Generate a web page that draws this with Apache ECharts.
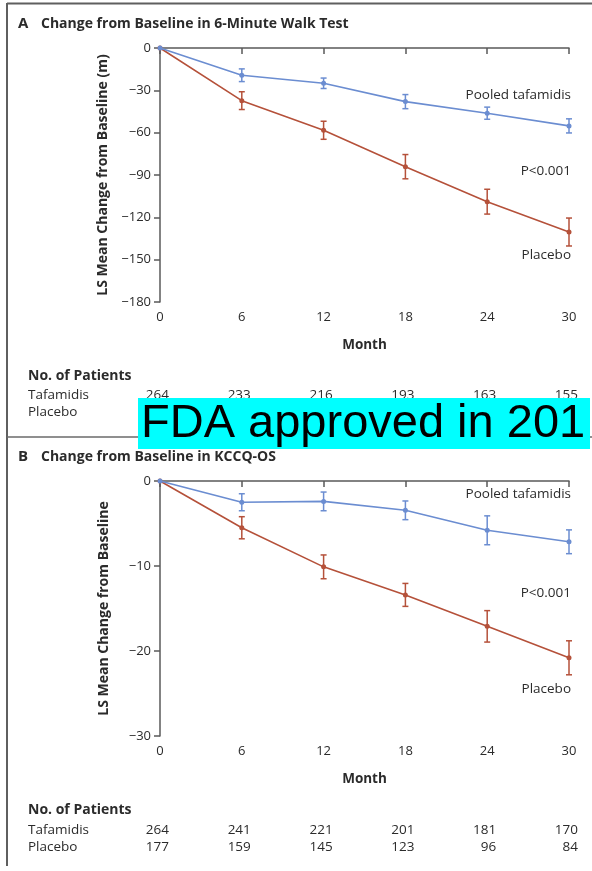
<!DOCTYPE html>
<html>
<head>
<meta charset="utf-8">
<script src="https://cdn.jsdelivr.net/npm/echarts@6/dist/echarts.min.js"></script>
<style>
  html, body { margin: 0; padding: 0; background: #fff; }
  #chart { width: 592px; height: 871px; }
</style>
</head>
<body>
<div id="chart"></div>
<script>
// Study months on the x axis
const months = [0, 6, 12, 18, 24, 30];

// A: 6-minute walk test, LS mean change (m) and error half-widths
const walkTafamidis = [0, -19.3, -25.0, -38.0, -46.2, -55.2];
const walkTafamidisErr = [0, 4.5, 3.7, 5.0, 4.3, 5.0];
const walkPlacebo = [0, -37.3, -58.3, -84.1, -108.9, -130.4];
const walkPlaceboErr = [0, 6.3, 6.4, 8.6, 8.8, 9.9];

// B: KCCQ-OS, LS mean change and error half-widths
const kccqTafamidis = [0, -2.5, -2.4, -3.45, -5.8, -7.15];
const kccqTafamidisErr = [0, 1.0, 1.1, 1.1, 1.7, 1.4];
const kccqPlacebo = [0, -5.5, -10.1, -13.4, -17.1, -20.8];
const kccqPlaceboErr = [0, 1.3, 1.4, 1.35, 1.85, 2.0];

// Numbers at risk
const walkPatientsTafamidis = [264, 233, 216, 193, 163, 155];
const kccqPatientsTafamidis = [264, 241, 221, 201, 181, 170];
const kccqPatientsPlacebo = [177, 159, 145, 123, 96, 84];

// Axis ticks
const walkTicks = { min: -180, max: 0, interval: 30 };
const kccqTicks = { min: -30, max: 0, interval: 10 };

const BLUE = '#6b8dd1';
const RED = '#b5513a';
const AXIS = '#5a5a5a';
const TEXT = '#2b2b2b';
const FONT = '"Open Sans", Lato, sans-serif';

const minusFmt = v => (v < 0 ? '\u2212' + Math.abs(v) : String(v));

function pairs(vals) { return months.map((m, i) => [m, vals[i]]); }
function triples(vals, errs) { return months.map((m, i) => [m, vals[i], errs[i]]); }

function errorBars(name, xi, yi, vals, errs, color) {
  return {
    type: 'custom', name, xAxisIndex: xi, yAxisIndex: yi, z: 3,
    data: triples(vals, errs),
    renderItem(params, api) {
      const x = api.value(0), y = api.value(1), e = api.value(2);
      if (!e) return null;
      const hi = api.coord([x, y + e]);
      const lo = api.coord([x, y - e]);
      const w = 3;
      const style = { stroke: color, lineWidth: 1.5 };
      return {
        type: 'group',
        children: [
          { type: 'line', shape: { x1: hi[0], y1: hi[1], x2: lo[0], y2: lo[1] }, style },
          { type: 'line', shape: { x1: hi[0] - w, y1: hi[1], x2: hi[0] + w, y2: hi[1] }, style },
          { type: 'line', shape: { x1: lo[0] - w, y1: lo[1], x2: lo[0] + w, y2: lo[1] }, style }
        ]
      };
    }
  };
}

function lineSeries(name, xi, yi, vals, color, z) {
  return {
    type: 'line', name, xAxisIndex: xi, yAxisIndex: yi, z,
    data: pairs(vals),
    symbol: 'circle', symbolSize: 5,
    itemStyle: { color },
    lineStyle: { color, width: 1.6 },
    emphasis: { disabled: true },
    animation: false
  };
}

function xAxis(gridIndex) {
  return {
    type: 'value', gridIndex, min: 0, max: 30, interval: 6,
    name: 'Month', nameLocation: 'middle', nameGap: 36,
    nameTextStyle: { fontFamily: FONT, fontWeight: 'bold', fontSize: 13.5, color: TEXT },
    axisLine: { lineStyle: { color: AXIS, width: 1.5 } },
    axisTick: { show: true, length: 6, lineStyle: { color: AXIS, width: 1.5 } },
    axisLabel: { margin: 9, fontFamily: FONT, fontSize: 13, color: TEXT },
    splitLine: { show: false }
  };
}

function yAxis(gridIndex, ticks, name) {
  return {
    type: 'value', gridIndex, min: ticks.min, max: ticks.max, interval: ticks.interval,
    name, nameLocation: 'middle', nameGap: 49, nameRotate: 90,
    nameTextStyle: { fontFamily: FONT, fontWeight: 'bold', fontSize: 14, color: TEXT },
    axisLine: { show: true, lineStyle: { color: AXIS, width: 1.5 } },
    axisTick: { show: true, length: 6, lineStyle: { color: AXIS, width: 1.5 } },
    axisLabel: { margin: 9, fontFamily: FONT, fontSize: 13, color: TEXT, formatter: minusFmt },
    splitLine: { show: false }
  };
}

const chart = echarts.init(document.getElementById('chart'), null, { renderer: 'canvas' });

const option = {
  backgroundColor: '#fff',
  animation: false,
  grid: [
    { left: 160, top: 48, width: 409, height: 254 },
    { left: 160, top: 481, width: 409, height: 255 }
  ],
  xAxis: [xAxis(0), xAxis(1)],
  yAxis: [
    yAxis(0, walkTicks, 'LS Mean Change from Baseline (m)'),
    yAxis(1, kccqTicks, 'LS Mean Change from Baseline')
  ],
  series: [
    errorBars('walkPlaceboErr', 0, 0, walkPlacebo, walkPlaceboErr, RED),
    lineSeries('Placebo', 0, 0, walkPlacebo, RED, 4),
    errorBars('walkTafamidisErr', 0, 0, walkTafamidis, walkTafamidisErr, BLUE),
    lineSeries('Pooled tafamidis', 0, 0, walkTafamidis, BLUE, 5),
    errorBars('kccqPlaceboErr', 1, 1, kccqPlacebo, kccqPlaceboErr, RED),
    lineSeries('Placebo', 1, 1, kccqPlacebo, RED, 4),
    errorBars('kccqTafamidisErr', 1, 1, kccqTafamidis, kccqTafamidisErr, BLUE),
    lineSeries('Pooled tafamidis', 1, 1, kccqTafamidis, BLUE, 5)
  ]
};
chart.setOption(option);

// Text helper for graphic labels
function txt(text, x, y, opts = {}) {
  return {
    type: 'text', x, y, z: opts.z || 10,
    style: {
      text, fill: opts.color || TEXT,
      font: (opts.bold ? 'bold ' : '') + (opts.size || 13) + 'px ' + (opts.family || FONT),
      textAlign: opts.align || 'left', textVerticalAlign: 'middle'
    }
  };
}

const g = [];
// panel frame
const frame = { stroke: '#5f5f5f', lineWidth: 2 };
g.push({ type: 'line', shape: { x1: 7, y1: 3.5, x2: 592, y2: 3.5 }, style: frame, z: 1 });
g.push({ type: 'line', shape: { x1: 7, y1: 3, x2: 7, y2: 866 }, style: frame, z: 1 });
g.push({ type: 'line', shape: { x1: 7, y1: 437, x2: 592, y2: 437 }, style: { stroke: '#6a6a6a', lineWidth: 1.5 }, z: 1 });

// panel titles
g.push(txt('A', 18, 24, { bold: true, size: 15 }));
g.push(txt('Change from Baseline in 6-Minute Walk Test', 41, 24, { bold: true, size: 14 }));
g.push(txt('B', 18, 457, { bold: true, size: 15 }));
g.push(txt('Change from Baseline in KCCQ-OS', 41, 457, { bold: true, size: 14 }));

// in-plot annotations
g.push(txt('Pooled tafamidis', 571, 95, { align: 'right', size: 13.5 }));
g.push(txt('P<0.001', 571, 171, { align: 'right', size: 13.5 }));
g.push(txt('Placebo', 571, 255, { align: 'right', size: 13.5 }));
g.push(txt('Pooled tafamidis', 571, 494, { align: 'right', size: 13.5 }));
g.push(txt('P<0.001', 571, 593, { align: 'right', size: 13.5 }));
g.push(txt('Placebo', 571, 689, { align: 'right', size: 13.5 }));

// numbers at risk, aligned to the month scale
function riskRow(label, counts, y, xAxisIndex) {
  g.push(txt(label, 28, y, { size: 13.5 }));
  months.forEach((m, i) => {
    const px = chart.convertToPixel({ xAxisIndex }, m);
    g.push(txt(String(counts[i]), px + 9, y, { align: 'right', size: 13.5 }));
  });
}
g.push(txt('No. of Patients', 28, 376, { bold: true, size: 14 }));
riskRow('Tafamidis', walkPatientsTafamidis, 395, 0);
g.push(txt('Placebo', 28, 412, { size: 13.5 }));

g.push(txt('No. of Patients', 28, 810, { bold: true, size: 14 }));
riskRow('Tafamidis', kccqPatientsTafamidis, 830, 1);
riskRow('Placebo', kccqPatientsPlacebo, 847, 1);

// cyan banner
g.push({ type: 'rect', shape: { x: 138, y: 398, width: 452, height: 51 }, style: { fill: '#00ffff' }, z: 20 });
g.push({
  type: 'text', x: 141, y: 424, z: 21,
  style: { text: 'FDA approved in 201', fill: '#000', font: '47px "Liberation Sans", Arial, sans-serif', textVerticalAlign: 'middle' }
});

chart.setOption({ graphic: g });
</script>
</body>
</html>
